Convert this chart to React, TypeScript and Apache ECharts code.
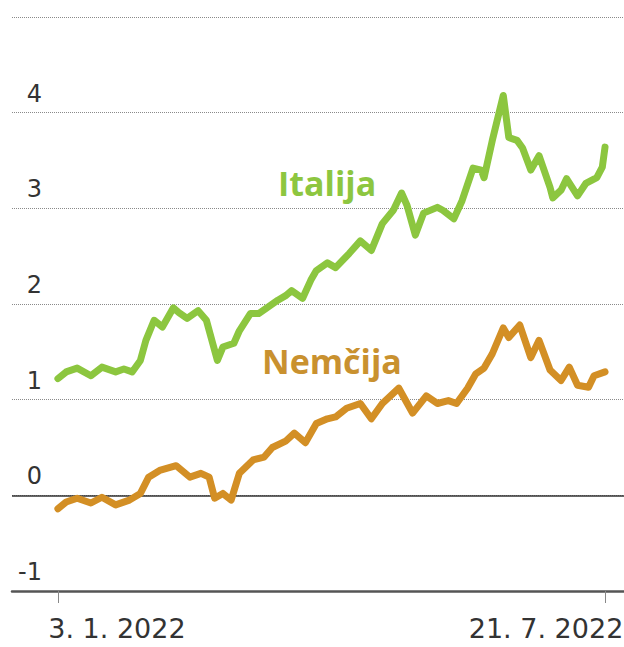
import React, { useEffect, useRef } from "react";
import * as echarts from "echarts";

// Days since 3. 1. 2022
const italyDays = [0, 3, 7, 12, 16, 21, 24, 27, 30, 32, 35, 38, 42, 44, 47, 51, 54, 56, 58, 60, 64, 66, 70, 73, 76, 80, 83, 85, 89, 92, 94, 98, 101, 106, 110, 114, 118, 122, 125, 127, 130, 133, 138, 140, 144, 147, 151, 154, 155, 158, 162, 164, 167, 169, 172, 175, 179, 180, 183, 185, 189, 192, 196, 198, 199];
const italyValues = [1.22, 1.29, 1.33, 1.25, 1.34, 1.29, 1.32, 1.29, 1.41, 1.62, 1.83, 1.76, 1.96, 1.91, 1.85, 1.93, 1.83, 1.62, 1.41, 1.55, 1.59, 1.72, 1.9, 1.9, 1.96, 2.04, 2.09, 2.14, 2.06, 2.25, 2.35, 2.43, 2.38, 2.53, 2.66, 2.56, 2.84, 2.98, 3.16, 3.03, 2.72, 2.95, 3.01, 2.98, 2.89, 3.08, 3.42, 3.4, 3.32, 3.71, 4.18, 3.74, 3.71, 3.63, 3.4, 3.55, 3.22, 3.11, 3.19, 3.31, 3.13, 3.26, 3.32, 3.43, 3.64];

const germanyDays = [0, 3, 7, 12, 16, 21, 26, 30, 33, 37, 43, 48, 52, 55, 57, 60, 63, 66, 71, 75, 78, 83, 86, 90, 94, 98, 101, 105, 110, 114, 118, 124, 129, 134, 138, 142, 145, 149, 152, 155, 158, 162, 164, 168, 172, 175, 179, 183, 186, 189, 193, 195, 199];
const germanyValues = [-0.14, -0.07, -0.03, -0.08, -0.02, -0.1, -0.05, 0.02, 0.19, 0.26, 0.31, 0.19, 0.23, 0.19, -0.03, 0.02, -0.05, 0.23, 0.37, 0.4, 0.5, 0.57, 0.65, 0.55, 0.75, 0.8, 0.82, 0.91, 0.96, 0.8, 0.96, 1.12, 0.86, 1.04, 0.96, 0.99, 0.96, 1.12, 1.27, 1.33, 1.48, 1.75, 1.65, 1.78, 1.44, 1.62, 1.31, 1.2, 1.34, 1.15, 1.13, 1.25, 1.29];

const xTickValues = [0, 199];
const xTickLabels = ["3. 1. 2022", "21. 7. 2022"];
const yTicks = [-1, 0, 1, 2, 3, 4, 5];
const yLabelsShown = [-1, 0, 1, 2, 3, 4];

const seriesNames = ["Italija", "Nemčija"];
const GREEN = "#8cc63f";
const ORANGE = "#d38f25";

export default function App() {
  const ref = useRef<HTMLDivElement>(null);
  useEffect(() => {
    if (!ref.current) return;
    const chart = echarts.init(ref.current, undefined, { renderer: "svg" });
    chart.setOption({
      animation: false,
      backgroundColor: "#ffffff",
      grid: { left: 12, right: 0, top: 17, bottom: 56, outerBoundsMode: "none", containLabel: false },
      xAxis: {
        type: "value",
        min: -16.7,
        max: 205.9,
        axisLine: { onZero: false, lineStyle: { color: "#555", width: 2.5 } },
        axisTick: { show: true, customValues: xTickValues, length: 12, lineStyle: { color: "#888", width: 1 } },
        splitLine: { show: false },
        axisLabel: {
          customValues: xTickValues,
          margin: 24,
          fontFamily: "DejaVu Sans",
          fontSize: 27,
          color: "#333",
          formatter: (v: number) => {
            const i = xTickValues.indexOf(Math.round(v));
            if (i === 0) return "{first|" + xTickLabels[0] + "}";
            if (i === 1) return "{last|" + xTickLabels[1] + "}";
            return "";
          },
          rich: {
            first: { fontFamily: "DejaVu Sans", fontSize: 27, color: "#333", padding: [0, 0, 0, 118] },
            last: { fontFamily: "DejaVu Sans", fontSize: 27, color: "#333", padding: [0, 118, 0, 0] },
          },
        },
      },
      yAxis: {
        type: "value",
        min: yTicks[0],
        max: yTicks[yTicks.length - 1],
        interval: 1,
        axisLine: { show: false },
        axisTick: { show: false },
        splitLine: { show: true, lineStyle: { color: "#8a8a8a", type: "dotted", width: 1 } },
        axisLabel: {
          inside: true,
          margin: 30,
          align: "right",
          fontFamily: "DejaVu Sans",
          fontSize: 24,
          color: "#333",
          verticalAlign: "bottom",
          padding: [0, 0, 7, 0],
          formatter: (v: number) => (yLabelsShown.indexOf(v) >= 0 ? String(v) : ""),
        },
      },
      series: [
        {
          name: seriesNames[0],
          type: "line",
          data: italyDays.map((d, i) => [d, italyValues[i]]),
          showSymbol: false,
          lineStyle: { color: GREEN, width: 7, join: "round", cap: "round" },
          z: 3,
        },
        {
          name: seriesNames[1],
          type: "line",
          data: germanyDays.map((d, i) => [d, germanyValues[i]]),
          showSymbol: false,
          lineStyle: { color: ORANGE, width: 7, join: "round", cap: "round" },
          z: 3,
          markLine: {
            silent: true,
            symbol: "none",
            label: { show: false },
            lineStyle: { color: "#333", type: "solid", width: 1.5 },
            data: [{ yAxis: 0 }],
            z: 2,
          },
        },
      ],
      graphic: [
        {
          type: "text",
          left: 278,
          top: 166,
          style: { text: seriesNames[0], fill: "#8dc640", font: "bold 34px 'Open Sans'" },
        },
        {
          type: "text",
          left: 262,
          top: 344,
          style: { text: seriesNames[1], fill: "#c9912f", font: "bold 34px 'Open Sans'" },
        },
      ],
    });
    return () => chart.dispose();
  }, []);
  return <div ref={ref} style={{ width: 624, height: 647, position: "absolute", left: 0, top: 0 }} />;
}
